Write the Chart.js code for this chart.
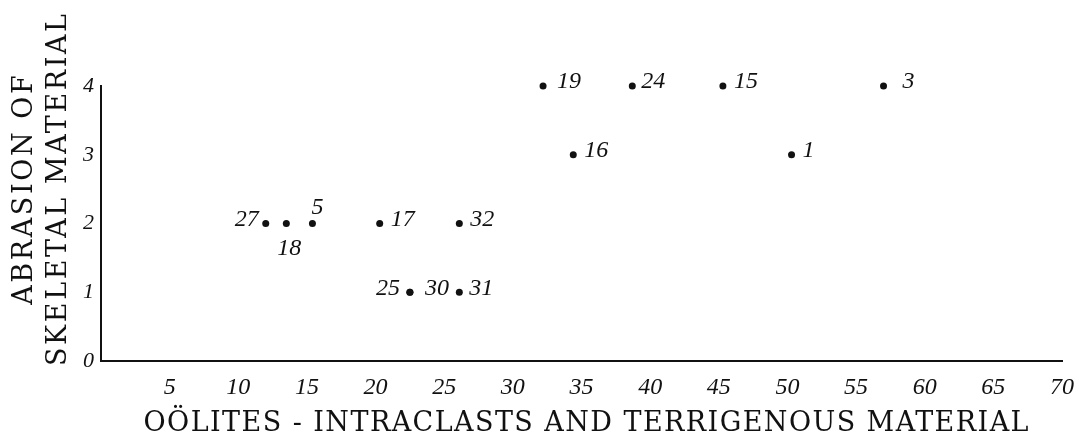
<!DOCTYPE html>
<html>
<head>
<meta charset="utf-8">
<script src="https://cdn.jsdelivr.net/npm/chart.js@4/dist/chart.umd.min.js"></script>
<style>
  html, body { margin: 0; padding: 0; background: #fff; }
  canvas { display: block; }
</style>
</head>
<body>
<canvas id="c" width="1079" height="436"></canvas>
<script>
// Sample numbers with their oolite/intraclast/terrigenous content and abrasion grade
const sampleIds     = ['27', '18', '5', '17', '32', '25', '30', '31', '19', '24', '15', '3', '16', '1'];
const oolitesPct    = [12.0, 13.5, 15.4, 20.3, 26.1, 22.5, 22.5, 26.1, 32.2, 38.7, 45.3, 57.0, 34.4, 50.3];
const abrasionGrade = [2, 2, 2, 2, 2, 1, 1, 1, 4, 4, 4, 4, 3, 3];

// Axis tick values and titles
const xTickValues = [5, 10, 15, 20, 25, 30, 35, 40, 45, 50, 55, 60, 65, 70];
const yTickValues = [0, 1, 2, 3, 4];
const xTitle = 'OÖLITES - INTRACLASTS AND TERRIGENOUS MATERIAL';
const yTitle = ['ABRASION OF', 'SKELETAL MATERIAL'];

const INK = '#111';
const SERIF = '"Liberation Serif", "Times New Roman", serif';
const TITLE_SERIF = '"DejaVu Serif", "Liberation Serif", serif';

// Where each sample number sits relative to its dot
const labelPlacement = {
  '27': { side: 'left',  gap: 7,  dy: 2 },
  '18': { side: 'below', dx: 3,  dy: 31 },
  '5':  { side: 'above', dx: 5,  dy: -10 },
  '25': { side: 'left',  gap: 10, dy: 3 },
  '30': { side: 'right', gap: 15, dy: 3 },
  '31': { side: 'right', gap: 10, dy: 3 },
  '19': { side: 'right', gap: 14, dy: 2 },
  '24': { side: 'right', gap: 9,  dy: 2 },
  '3':  { side: 'right', gap: 19, dy: 2 }
};

const points = sampleIds.map((id, i) => ({ x: oolitesPct[i], y: abrasionGrade[i], id }));

// Draws text stretched to a given width with even letter spacing
function spacedText(ctx, text, cx, baseline, spacing) {
  ctx.letterSpacing = '0px';
  const n = Array.from(text).length;
  const natural = ctx.measureText(text).width;
  const total = natural + spacing * (n - 1);
  ctx.textAlign = 'left';
  if ('letterSpacing' in ctx) {
    ctx.letterSpacing = spacing + 'px';
    ctx.fillText(text, cx - total / 2, baseline);
    ctx.letterSpacing = '0px';
  } else {
    ctx.save();
    ctx.translate(cx - total / 2, baseline);
    ctx.scale(total / natural, 1);
    ctx.fillText(text, 0, 0);
    ctx.restore();
  }
}

function spacingFor(ctx, text, width) {
  ctx.letterSpacing = '0px';
  const n = Array.from(text).length;
  return (width - ctx.measureText(text).width) / (n - 1);
}

const sampleLabels = {
  id: 'sampleLabels',
  afterDatasetsDraw(chart) {
    const ctx = chart.ctx;
    const meta = chart.getDatasetMeta(0);
    ctx.save();
    ctx.fillStyle = INK;
    ctx.font = 'italic 24px ' + SERIF;
    ctx.textBaseline = 'alphabetic';
    meta.data.forEach((el, i) => {
      const id = sampleIds[i];
      const p = labelPlacement[id] || { side: 'right', gap: 11, dy: 2 };
      let x = el.x, y = el.y + (p.dy || 0);
      if (p.side === 'right') { ctx.textAlign = 'left'; x += p.gap; }
      else if (p.side === 'left') { ctx.textAlign = 'right'; x -= p.gap; }
      else { ctx.textAlign = 'center'; x += (p.dx || 0); }
      ctx.fillText(id, x, y);
    });
    ctx.restore();
  }
};

const axisTitles = {
  id: 'axisTitles',
  afterDraw(chart) {
    const ctx = chart.ctx;
    ctx.save();
    ctx.fillStyle = INK;
    ctx.font = '27px ' + TITLE_SERIF;
    ctx.textBaseline = 'alphabetic';
    // horizontal title under the x axis
    spacedText(ctx, xTitle, 586, 431, spacingFor(ctx, xTitle, 885));
    // two-line vertical title left of the y axis
    const sp = spacingFor(ctx, yTitle[1], 352);
    ctx.translate(0, 190);
    ctx.rotate(-Math.PI / 2);
    spacedText(ctx, yTitle[0], 0, 32, sp);
    spacedText(ctx, yTitle[1], 0, 66, sp);
    ctx.restore();
  }
};

new Chart(document.getElementById('c'), {
  type: 'scatter',
  data: {
    datasets: [{
      data: points,
      backgroundColor: INK,
      borderColor: INK,
      pointRadius: 3.5,
      pointHoverRadius: 3.5,
      borderWidth: 0,
      clip: false
    }]
  },
  options: {
    responsive: false,
    animation: false,
    events: [],
    layout: { padding: { top: 86, right: 17, left: 0, bottom: 0 } },
    plugins: { legend: { display: false }, tooltip: { enabled: false } },
    scales: {
      x: {
        type: 'linear',
        min: 0,
        max: 70,
        afterBuildTicks(scale) { scale.ticks = xTickValues.map(v => ({ value: v })); },
        afterFit(scale) {
          scale.height = 75;
          scale.paddingLeft = 0;
          scale.paddingRight = 0;
        },
        grid: { display: false, drawTicks: false },
        border: { display: true, color: INK, width: 2 },
        ticks: {
          padding: 12,
          color: INK,
          font: { family: SERIF, size: 24, style: 'italic' },
          maxRotation: 0,
          autoSkip: false
        }
      },
      y: {
        type: 'linear',
        min: 0,
        max: 4,
        afterBuildTicks(scale) { scale.ticks = yTickValues.map(v => ({ value: v })); },
        afterFit(scale) {
          scale.width = 101;
          scale.paddingTop = 0;
          scale.paddingBottom = 0;
        },
        grid: { display: false, drawTicks: false },
        border: { display: true, color: INK, width: 2 },
        ticks: {
          padding: 7,
          color: INK,
          font: { family: SERIF, size: 22, style: 'italic' }
        }
      }
    }
  },
  plugins: [sampleLabels, axisTitles]
});
</script>
</body>
</html>
